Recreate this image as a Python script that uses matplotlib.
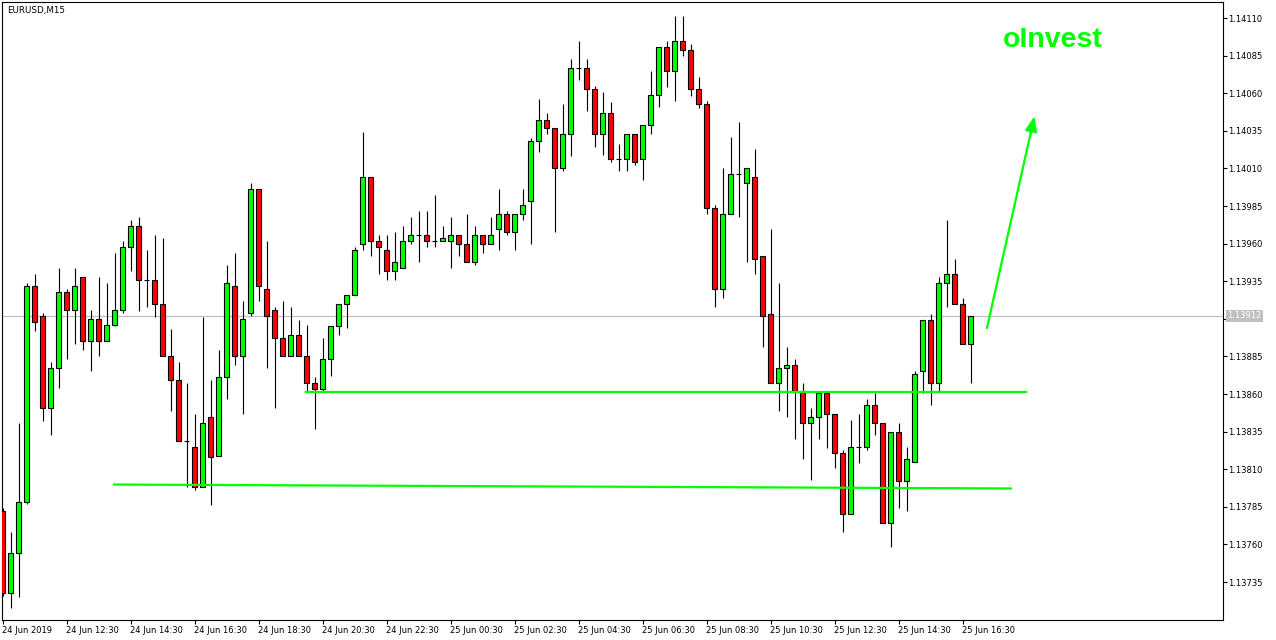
import matplotlib
matplotlib.use("Agg")
import matplotlib.pyplot as plt

# EURUSD M15, 24 Jun 2019 10:30 .. 25 Jun 16:45 (one bar every 15 min)
opens = [1.13782, 1.13728, 1.13754, 1.13788, 1.13932, 1.13912, 1.13851, 1.13877, 1.13928, 1.13916,
         1.13938, 1.13895, 1.13910, 1.13895, 1.13906, 1.13916, 1.13958, 1.13972, 1.13936, 1.13936,
         1.13920, 1.13885, 1.13869, 1.13829, 1.13825, 1.13798, 1.13845, 1.13819, 1.13871, 1.13932,
         1.13885, 1.13914, 1.13996, 1.13930, 1.13916, 1.13897, 1.13885, 1.13899, 1.13885, 1.13867,
         1.13863, 1.13883, 1.13905, 1.13920, 1.13926, 1.13960, 1.14004, 1.13962, 1.13956, 1.13942,
         1.13944, 1.13962, 1.13966, 1.13966, 1.13962, 1.13962, 1.13962, 1.13966, 1.13960, 1.13948,
         1.13966, 1.13960, 1.13970, 1.13980, 1.13968, 1.13980, 1.13988, 1.14028, 1.14042, 1.14037,
         1.14010, 1.14033, 1.14077, 1.14077, 1.14063, 1.14033, 1.14047, 1.14016, 1.14016, 1.14033,
         1.14016, 1.14039, 1.14059, 1.14091, 1.14075, 1.14095, 1.14089, 1.14063, 1.14053, 1.13984,
         1.13930, 1.13980, 1.14006, 1.14000, 1.14004, 1.13952, 1.13913, 1.13867, 1.13877, 1.13879,
         1.13862, 1.13841, 1.13845, 1.13861, 1.13847, 1.13821, 1.13780, 1.13825, 1.13825, 1.13853,
         1.13841, 1.13774, 1.13835, 1.13802, 1.13815, 1.13875, 1.13909, 1.13867, 1.13934, 1.13940,
         1.13920, 1.13893]
highs = [1.13784, 1.13768, 1.13841, 1.13934, 1.13940, 1.13914, 1.13881, 1.13944, 1.13930, 1.13944,
         1.13938, 1.13916, 1.13938, 1.13934, 1.13954, 1.13962, 1.13976, 1.13978, 1.13956, 1.13966,
         1.13964, 1.13903, 1.13881, 1.13867, 1.13847, 1.13911, 1.13869, 1.13889, 1.13946, 1.13954,
         1.13922, 1.14000, 1.13996, 1.13962, 1.13918, 1.13922, 1.13918, 1.13909, 1.13906, 1.13871,
         1.13897, 1.13905, 1.13920, 1.13926, 1.13958, 1.14034, 1.14004, 1.13966, 1.13966, 1.13968,
         1.13972, 1.13978, 1.13982, 1.13982, 1.13992, 1.13972, 1.13978, 1.13966, 1.13980, 1.13972,
         1.13966, 1.13978, 1.13996, 1.13982, 1.13980, 1.13996, 1.14030, 1.14056, 1.14047, 1.14037,
         1.14053, 1.14083, 1.14095, 1.14083, 1.14065, 1.14061, 1.14054, 1.14026, 1.14033, 1.14033,
         1.14039, 1.14075, 1.14091, 1.14095, 1.14111, 1.14111, 1.14093, 1.14071, 1.14055, 1.13986,
         1.14010, 1.14031, 1.14041, 1.14010, 1.14023, 1.13952, 1.13970, 1.13934, 1.13891, 1.13883,
         1.13867, 1.13851, 1.13861, 1.13861, 1.13847, 1.13823, 1.13843, 1.13847, 1.13857, 1.13861,
         1.13841, 1.13835, 1.13841, 1.13825, 1.13875, 1.13909, 1.13913, 1.13938, 1.13976, 1.13950,
         1.13924, 1.13912]
lows = [1.13726, 1.13718, 1.13725, 1.13787, 1.13902, 1.13842, 1.13833, 1.13864, 1.13883, 1.13893,
        1.13889, 1.13875, 1.13885, 1.13895, 1.13905, 1.13914, 1.13942, 1.13915, 1.13918, 1.13911,
        1.13885, 1.13849, 1.13829, 1.13798, 1.13796, 1.13798, 1.13786, 1.13819, 1.13857, 1.13879,
        1.13847, 1.13912, 1.13922, 1.13877, 1.13851, 1.13885, 1.13885, 1.13885, 1.13862, 1.13837,
        1.13862, 1.13872, 1.13899, 1.13904, 1.13926, 1.13956, 1.13952, 1.13940, 1.13936, 1.13936,
        1.13944, 1.13960, 1.13948, 1.13958, 1.13958, 1.13962, 1.13944, 1.13952, 1.13948, 1.13946,
        1.13954, 1.13960, 1.13956, 1.13966, 1.13956, 1.13976, 1.13960, 1.14021, 1.14033, 1.13968,
        1.14008, 1.14018, 1.14069, 1.14048, 1.14024, 1.14019, 1.14014, 1.14008, 1.14008, 1.14012,
        1.14002, 1.14033, 1.14051, 1.14064, 1.14055, 1.14085, 1.14058, 1.14050, 1.13980, 1.13918,
        1.13924, 1.13980, 1.13978, 1.13948, 1.13940, 1.13891, 1.13867, 1.13849, 1.13845, 1.13830,
        1.13817, 1.13803, 1.13830, 1.13824, 1.13811, 1.13768, 1.13780, 1.13814, 1.13823, 1.13833,
        1.13774, 1.13758, 1.13784, 1.13782, 1.13815, 1.13861, 1.13853, 1.13862, 1.13918, 1.13920,
        1.13893, 1.13867]
closes = [1.13728, 1.13754, 1.13788, 1.13932, 1.13908, 1.13851, 1.13877, 1.13928, 1.13916, 1.13932,
          1.13895, 1.13910, 1.13895, 1.13906, 1.13916, 1.13958, 1.13972, 1.13936, 1.13936, 1.13920,
          1.13885, 1.13869, 1.13829, 1.13829, 1.13798, 1.13841, 1.13818, 1.13871, 1.13934, 1.13885,
          1.13910, 1.13996, 1.13932, 1.13912, 1.13897, 1.13885, 1.13899, 1.13885, 1.13867, 1.13863,
          1.13883, 1.13905, 1.13920, 1.13926, 1.13956, 1.14004, 1.13962, 1.13958, 1.13942, 1.13948,
          1.13962, 1.13966, 1.13966, 1.13962, 1.13962, 1.13964, 1.13966, 1.13960, 1.13948, 1.13966,
          1.13960, 1.13966, 1.13980, 1.13968, 1.13980, 1.13986, 1.14028, 1.14042, 1.14037, 1.14010,
          1.14033, 1.14077, 1.14077, 1.14063, 1.14033, 1.14047, 1.14016, 1.14016, 1.14033, 1.14014,
          1.14039, 1.14059, 1.14091, 1.14075, 1.14095, 1.14089, 1.14063, 1.14053, 1.13984, 1.13930,
          1.13980, 1.14006, 1.14006, 1.14010, 1.13950, 1.13912, 1.13867, 1.13877, 1.13879, 1.13862,
          1.13841, 1.13845, 1.13861, 1.13847, 1.13821, 1.13780, 1.13825, 1.13825, 1.13853, 1.13841,
          1.13774, 1.13835, 1.13802, 1.13817, 1.13873, 1.13909, 1.13867, 1.13934, 1.13940, 1.13920,
          1.13893, 1.13912]

time_ticks = [0, 8, 16, 24, 32, 40, 48, 56, 64, 72, 80, 88, 96, 104, 112, 120]
time_labels = ["24 Jun 2019", "24 Jun 12:30", "24 Jun 14:30", "24 Jun 16:30", "24 Jun 18:30",
               "24 Jun 20:30", "24 Jun 22:30", "25 Jun 00:30", "25 Jun 02:30", "25 Jun 04:30",
               "25 Jun 06:30", "25 Jun 08:30", "25 Jun 10:30", "25 Jun 12:30", "25 Jun 14:30",
               "25 Jun 16:30"]
price_ticks = [1.14110, 1.14085, 1.14060, 1.14035, 1.14010, 1.13985, 1.13960, 1.13935,
               1.13910, 1.13885, 1.13860, 1.13835, 1.13810, 1.13785, 1.13760, 1.13735]

# drawn objects (bar index, price)
support_hi = ([37.94, 127.94], [1.138615, 1.138615])
support_lo = ([13.94, 126.06], [1.137998, 1.137972])
arrow_from = (123.06, 1.139039)
arrow_to = (129.0, 1.140448)

LIME = "#00ff00"
W, H = 1276, 640

fig = plt.figure(figsize=(W / 100, H / 100), dpi=100)
ax = fig.add_axes([2 / W, 20 / H, 1221 / W, 618 / H])
ax.set_xlim(-0.0625, 152.5625)
ax.set_ylim(1.1370974, 1.1412064)

x = list(range(len(opens)))
ax.vlines(x, lows, highs, color="black", lw=0.8, zorder=2)
bottoms = [min(o, c) for o, c in zip(opens, closes)]
heights = [abs(c - o) for o, c in zip(opens, closes)]
colors = [LIME if c >= o else "#ff0000" for o, c in zip(opens, closes)]
ax.bar(x, heights, bottom=bottoms, width=0.52, color=colors, edgecolor="black",
       linewidth=0.8, zorder=3)

# bid line
ax.axhline(closes[-1], color="#c0c0c0", lw=0.9, zorder=1)

ax.plot(*support_hi, color=LIME, lw=1.6, zorder=4)
ax.plot(*support_lo, color=LIME, lw=1.6, zorder=4)
ax.annotate("", xy=arrow_to, xytext=arrow_from,
            arrowprops=dict(arrowstyle="-|>,head_length=0.9,head_width=0.35", color=LIME,
                            lw=1.6, shrinkA=0, shrinkB=0, mutation_scale=10), zorder=5)
ax.text(125.06, 1.1409072, "oInvest", color=LIME, fontsize=20.5, fontweight="bold",
        family=["Liberation Sans"], ha="left", va="baseline", zorder=5)

for s in ax.spines.values():
    s.set_linewidth(0.8)
    s.set_color("black")

# the 1.13910 label sits under the bid price box, so it is left blank
ax.yaxis.tick_right()
ax.set_yticks(price_ticks)
ax.set_yticklabels(["" if abs(p - 1.13910) < 1e-7 else f"{p:.5f}" for p in price_ticks])
ax.set_xticks(time_ticks)
ax.set_xticklabels(time_labels, ha="left")
ax.tick_params(axis="y", direction="out", length=3, width=0.8, pad=1, labelsize=6)
ax.tick_params(axis="x", direction="out", length=3, width=0.8, pad=1.5, labelsize=6)

ax.text(1.0035, closes[-1], f"{closes[-1]:.5f}", transform=ax.get_yaxis_transform(),
        color="white", fontsize=6, ha="left", va="center", clip_on=False, zorder=10,
        bbox=dict(boxstyle="square,pad=0.2", fc="#c0c0c0", ec="none"))

fig.text(7 / W, 1 - 10 / H, "EURUSD,M15", fontsize=6.3, ha="left", va="center")

fig.savefig("out.png", dpi=100)
